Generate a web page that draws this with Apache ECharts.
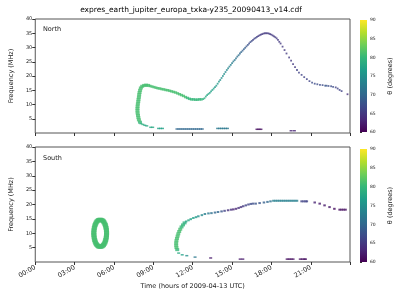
<!DOCTYPE html>
<html>
<head>
<meta charset="utf-8">
<script src="https://cdn.jsdelivr.net/npm/echarts@6/dist/echarts.min.js"></script>
<style>
  html, body { margin: 0; padding: 0; background: #fff; }
  #chart { width: 400px; height: 300px; }
</style>
</head>
<body>
<div id="chart"></div>
<script>
// [hour, frequency MHz, theta deg]
const northBand = [
  [7.98, 3.8, 80], [7.9, 4.6, 81], [7.86, 5.4, 81], [7.83, 6.2, 81], [7.8, 7.0, 81],
  [7.79, 7.8, 81], [7.79, 8.6, 81], [7.8, 9.4, 81], [7.82, 10.2, 81], [7.85, 11.0, 81],
  [7.87, 11.8, 81], [7.9, 12.6, 81], [7.92, 13.4, 81], [7.95, 14.2, 81], [7.99, 15.0, 81],
  [8.05, 15.8, 81], [8.15, 16.4, 81], [8.3, 16.7, 81], [8.45, 16.8, 81], [8.6, 16.7, 81]
];
const northArc = [
  [8.75, 16.5, 81], [8.9, 16.3, 81], [9.05, 16.1, 81], [9.2, 15.9, 81], [9.35, 15.7, 81],
  [9.5, 15.6, 81], [9.65, 15.4, 81], [9.8, 15.3, 81], [9.95, 15.1, 81], [10.1, 15.0, 81],
  [10.25, 14.8, 81], [10.4, 14.6, 81], [10.55, 14.4, 81], [10.7, 14.2, 81], [10.85, 13.9, 81],
  [11.0, 13.6, 81], [11.15, 13.3, 81], [11.3, 13.0, 81], [11.45, 12.6, 81], [11.6, 12.3, 80],
  [11.75, 12.0, 80], [11.9, 11.8, 80], [12.05, 11.8, 80], [12.2, 11.7, 80], [12.35, 11.7, 80],
  [12.5, 11.8, 80], [12.65, 11.8, 80]
];
const northTrail = [
  [12.8, 11.9, 79], [12.9, 12.2, 79], [13.0, 12.8, 78], [13.1, 13.3, 78], [13.2, 13.7, 78],
  [13.3, 14.1, 77], [13.4, 14.6, 77], [13.5, 15.1, 77], [13.6, 15.6, 77], [13.7, 16.1, 76],
  [13.8, 16.6, 76], [13.9, 17.3, 76], [14.0, 18.0, 76], [14.1, 18.6, 75], [14.2, 19.3, 75],
  [14.3, 20.0, 75], [14.4, 20.7, 75], [14.5, 21.4, 74], [14.6, 22.1, 74], [14.7, 22.7, 74],
  [14.8, 23.3, 73], [14.9, 23.9, 73], [15.0, 24.5, 73], [15.1, 25.1, 72], [15.2, 25.6, 72],
  [15.3, 26.2, 71], [15.4, 26.8, 71], [15.5, 27.3, 71], [15.6, 27.9, 70], [15.7, 28.4, 70],
  [15.8, 28.9, 69], [15.9, 29.4, 69], [16.0, 29.9, 69], [16.1, 30.4, 68], [16.2, 30.9, 68],
  [16.3, 31.4, 67], [16.4, 31.9, 67], [16.5, 32.3, 67], [16.6, 32.7, 66], [16.7, 33.1, 66],
  [16.8, 33.4, 66], [16.9, 33.7, 66], [17.0, 34.0, 65], [17.1, 34.3, 65], [17.2, 34.5, 65],
  [17.3, 34.7, 65], [17.4, 34.9, 65], [17.5, 35.0, 65], [17.6, 35.0, 65], [17.7, 35.0, 65],
  [17.8, 34.9, 65], [17.9, 34.7, 65], [18.0, 34.5, 65], [18.1, 34.2, 65], [18.2, 33.9, 65],
  [18.3, 33.6, 65], [18.4, 33.2, 65], [18.5, 32.7, 65], [18.6, 32.0, 65], [18.7, 31.4, 65],
  [18.85, 30.3, 65], [19.0, 29.1, 65], [19.15, 27.9, 65], [19.35, 26.5, 65], [19.5, 25.4, 65],
  [19.65, 24.2, 65], [19.8, 23.1, 65], [19.95, 22.1, 66], [20.1, 21.2, 66], [20.3, 20.4, 66],
  [20.5, 19.6, 66], [20.7, 18.9, 66], [20.9, 18.2, 66], [21.1, 17.7, 67], [21.3, 17.3, 67],
  [21.5, 17.1, 67], [21.7, 16.9, 67], [21.9, 16.8, 67], [22.1, 16.6, 68], [22.2, 16.6, 68],
  [22.35, 16.5, 67], [22.55, 16.4, 67], [22.7, 16.2, 67], [22.9, 16.0, 66], [23.05, 15.6, 66],
  [23.2, 15.1, 66], [23.35, 14.7, 66], [23.8, 13.6, 64]
];
const northLow = [
  [8.05, 3.3, 79], [8.2, 3.0, 79], [8.35, 2.7, 78], [8.5, 2.5, 78],
  [8.8, 2.0, 78], [8.95, 2.0, 78], [9.4, 1.6, 77], [9.55, 1.6, 77], [9.7, 1.6, 77],
  [10.8, 1.4, 70], [10.95, 1.4, 70], [11.1, 1.4, 70], [11.25, 1.4, 70], [11.4, 1.4, 70],
  [11.55, 1.4, 70], [11.7, 1.4, 70], [11.85, 1.4, 70], [12.0, 1.4, 70], [12.15, 1.4, 70],
  [12.3, 1.4, 70], [12.45, 1.4, 70], [12.6, 1.4, 70], [12.73, 1.4, 70],
  [13.9, 1.6, 72], [14.05, 1.6, 72], [14.2, 1.6, 72], [14.35, 1.6, 72], [14.5, 1.6, 72], [14.65, 1.6, 72],
  [16.9, 1.3, 61], [17.05, 1.3, 61], [17.2, 1.3, 61],
  [19.5, 0.8, 63], [19.75, 0.8, 63]
];

const southOval = [
  [5.44, 10.0, 81], [5.43, 10.6, 81], [5.42, 11.2, 81], [5.4, 11.8, 81], [5.37, 12.35, 81],
  [5.34, 12.85, 81], [5.3, 13.3, 81], [5.25, 13.75, 81], [5.2, 14.1, 81], [5.14, 14.35, 81],
  [5.08, 14.55, 81], [5.01, 14.65, 81], [4.95, 14.7, 81], [4.88, 14.65, 81], [4.82, 14.55, 81],
  [4.76, 14.35, 81], [4.7, 14.1, 81], [4.65, 13.75, 81], [4.6, 13.3, 81], [4.56, 12.85, 81],
  [4.53, 12.35, 81], [4.5, 11.8, 81], [4.48, 11.2, 81], [4.47, 10.6, 81], [4.46, 10.0, 81],
  [4.47, 9.4, 81], [4.48, 8.8, 81], [4.5, 8.2, 81], [4.53, 7.65, 81], [4.56, 7.15, 81],
  [4.6, 6.7, 81], [4.65, 6.25, 81], [4.7, 5.9, 81], [4.76, 5.65, 81], [4.82, 5.45, 81],
  [4.88, 5.35, 81], [4.95, 5.3, 81], [5.01, 5.35, 81], [5.08, 5.45, 81], [5.14, 5.65, 81],
  [5.2, 5.9, 81], [5.25, 6.25, 81], [5.3, 6.7, 81], [5.34, 7.15, 81], [5.37, 7.65, 81],
  [5.4, 8.2, 81], [5.42, 8.8, 81], [5.43, 9.4, 81]
];
const southBand = [
  [10.82, 4.3, 80], [10.76, 5.0, 81], [10.74, 5.8, 81], [10.74, 6.6, 81], [10.76, 7.4, 81],
  [10.8, 8.2, 81], [10.85, 9.0, 81], [10.9, 9.8, 81], [10.97, 10.6, 81], [11.05, 11.4, 81],
  [11.15, 12.2, 80], [11.26, 12.9, 80], [11.38, 13.6, 79]
];
const southTrail = [
  [11.5, 14.1, 78], [11.68, 14.5, 78], [11.85, 14.9, 77], [12.05, 15.3, 77], [12.25, 15.6, 76],
  [12.43, 15.9, 75], [12.7, 16.3, 74], [12.93, 16.7, 73], [13.2, 16.9, 72], [13.43, 17.0, 71],
  [13.7, 17.2, 70], [13.93, 17.4, 70], [14.2, 17.6, 68], [14.43, 17.8, 66], [14.7, 18.0, 64],
  [14.93, 18.2, 64], [15.1, 18.3, 63], [15.3, 18.5, 63], [15.5, 18.8, 64], [15.68, 19.1, 64],
  [15.85, 19.4, 65], [16.05, 19.7, 66], [16.25, 20.0, 66], [16.43, 20.2, 67], [16.6, 20.3, 67],
  [16.8, 20.3, 68], [17.1, 20.5, 68], [17.43, 20.7, 69], [17.7, 20.9, 70], [17.93, 21.1, 71],
  [18.15, 21.3, 73], [18.3, 21.3, 73], [18.45, 21.3, 73], [18.6, 21.3, 73], [18.75, 21.3, 73],
  [18.9, 21.3, 73], [19.05, 21.3, 73], [19.2, 21.3, 73], [19.35, 21.3, 73], [19.5, 21.3, 73],
  [19.65, 21.3, 73], [19.8, 21.3, 73], [19.95, 21.3, 73],
  [20.3, 21.1, 66], [20.45, 21.1, 66], [20.6, 21.1, 66], [20.7, 21.1, 66],
  [21.3, 20.7, 63], [21.68, 20.3, 62], [22.05, 19.7, 62], [22.43, 19.1, 62], [22.8, 18.5, 61],
  [23.2, 18.2, 61], [23.35, 18.2, 61], [23.5, 18.2, 61], [23.65, 18.2, 61]
];
const southLow = [
  [10.93, 3.1, 78], [11.2, 2.5, 77], [11.55, 2.2, 75], [12.18, 1.7, 72],
  [13.37, 1.4, 62], [15.62, 1.0, 62], [15.82, 1.0, 62],
  [19.2, 1.0, 61], [19.35, 1.0, 61], [19.5, 1.0, 61], [19.65, 1.0, 61],
  [20.2, 1.0, 61], [20.35, 1.0, 61], [20.5, 1.0, 61], [20.6, 1.0, 61]
];

const hourTicks = [0, 3, 6, 9, 12, 15, 18, 21];
const viridis = ['#440154', '#482878', '#3e4989', '#31688e', '#26828e', '#1f9e89', '#35b779', '#6ece58', '#b5de2b', '#fde725'];

const FONT = 'DejaVu Sans';
const chart = echarts.init(document.getElementById('chart'), null, { renderer: 'canvas' });

function scatter(data, grid, size) {
  return {
    type: 'scatter',
    xAxisIndex: grid,
    yAxisIndex: grid,
    symbol: 'rect',
    symbolSize: size,
    data: data,
    silent: true
  };
}

function colorbar(grid) {
  return {
    type: 'custom',
    xAxisIndex: grid,
    yAxisIndex: grid,
    silent: true,
    data: [[0, 60, 1, 90]],
    encode: { x: [0, 2], y: [1, 3] },
    renderItem: function (params, api) {
      const p0 = api.coord([api.value(0), api.value(1)]);
      const p1 = api.coord([api.value(2), api.value(3)]);
      return {
        type: 'rect',
        shape: { x: p0[0], y: p1[1], width: p1[0] - p0[0], height: p0[1] - p1[1] },
        style: {
          fill: new echarts.graphic.LinearGradient(0, 1, 0, 0,
            viridis.map((c, i) => ({ offset: i / (viridis.length - 1), color: c })))
        }
      };
    }
  };
}

function timeAxis(grid, labels) {
  return {
    type: 'value',
    gridIndex: grid,
    min: 0,
    max: 23.99,
    interval: 3,
    axisLine: { show: false },
    axisTick: { show: true, length: 3, lineStyle: { color: '#333' } },
    splitLine: { show: false },
    axisLabel: {
      show: labels,
      rotate: 30,
      margin: 5,
      fontSize: 6.5,
      fontFamily: FONT,
      color: '#222',
      formatter: v => hourTicks.indexOf(v) >= 0 ? (v < 10 ? '0' : '') + v + ':00' : ''
    },
    name: labels ? 'Time (hours of 2009-04-13 UTC)' : '',
    nameLocation: 'middle',
    nameGap: 21,
    nameTextStyle: { fontSize: 6.5, fontFamily: FONT, color: '#222' }
  };
}

function freqAxis(grid) {
  return {
    type: 'value',
    gridIndex: grid,
    min: 0,
    max: 40,
    interval: 5,
    axisLine: { show: false },
    axisTick: { show: true, length: 3, lineStyle: { color: '#333' } },
    splitLine: { show: false },
    axisLabel: { showMinLabel: false, margin: 3, fontSize: 5, fontFamily: FONT, color: '#222' },
    name: 'Frequency (MHz)',
    nameLocation: 'middle',
    nameGap: 17,
    nameTextStyle: { fontSize: 6.5, fontFamily: FONT, color: '#222' }
  };
}

function thetaAxis(grid) {
  return {
    type: 'value',
    gridIndex: grid,
    position: 'right',
    min: 60,
    max: 90,
    interval: 5,
    axisLine: { show: false },
    axisTick: { show: true, length: 2, lineStyle: { color: '#333' } },
    splitLine: { show: false },
    axisLabel: { margin: 3, fontSize: 4.5, fontFamily: FONT, color: '#222' },
    name: 'θ (degrees)',
    nameLocation: 'middle',
    nameRotate: 90,
    nameGap: 20,
    nameTextStyle: { fontSize: 6.5, fontFamily: FONT, color: '#222' }
  };
}

const option = {
  animation: false,
  backgroundColor: '#fff',
  grid: [
    { left: 31, top: 19, width: 319, height: 114, show: true, borderColor: '#555', borderWidth: 1 },
    { left: 31, top: 147, width: 319, height: 115, show: true, borderColor: '#555', borderWidth: 1 },
    { left: 360, top: 20, width: 7, height: 112 },
    { left: 360, top: 149, width: 7, height: 113 }
  ],
  xAxis: [
    timeAxis(0, false),
    timeAxis(1, true),
    { type: 'value', gridIndex: 2, min: 0, max: 1, show: false },
    { type: 'value', gridIndex: 3, min: 0, max: 1, show: false }
  ],
  yAxis: [freqAxis(0), freqAxis(1), thetaAxis(2), thetaAxis(3)],
  visualMap: {
    show: false,
    type: 'continuous',
    min: 60,
    max: 90,
    dimension: 2,
    seriesIndex: [0, 1, 2, 3, 4, 5, 6, 7],
    inRange: { color: viridis }
  },
  graphic: [
    { type: 'text', x: 191, y: 6, style: { text: 'expres_earth_jupiter_europa_txka-y235_20090413_v14.cdf', fontSize: 7.5, fontFamily: FONT, fill: '#000', align: 'center', verticalAlign: 'top' } },
    { type: 'text', x: 43, y: 26, style: { text: 'North', fontSize: 6.5, fontFamily: FONT, fill: '#222' } },
    { type: 'text', x: 43, y: 155, style: { text: 'South', fontSize: 6.5, fontFamily: FONT, fill: '#222' } }
  ],
  series: [
    scatter(northBand, 0, [4, 3]),
    scatter(northArc, 0, [3, 2.5]),
    scatter(northTrail, 0, [1.8, 1.8]),
    scatter(northLow, 0, [3, 1.5]),
    scatter(southOval, 1, [5, 4]),
    scatter(southBand, 1, [4, 3]),
    scatter(southTrail, 1, [2.5, 2]),
    scatter(southLow, 1, [3, 1.5]),
    colorbar(2),
    colorbar(3)
  ]
};

chart.setOption(option);
window.addEventListener('resize', () => {
  chart.resize();
});
</script>
</body>
</html>
